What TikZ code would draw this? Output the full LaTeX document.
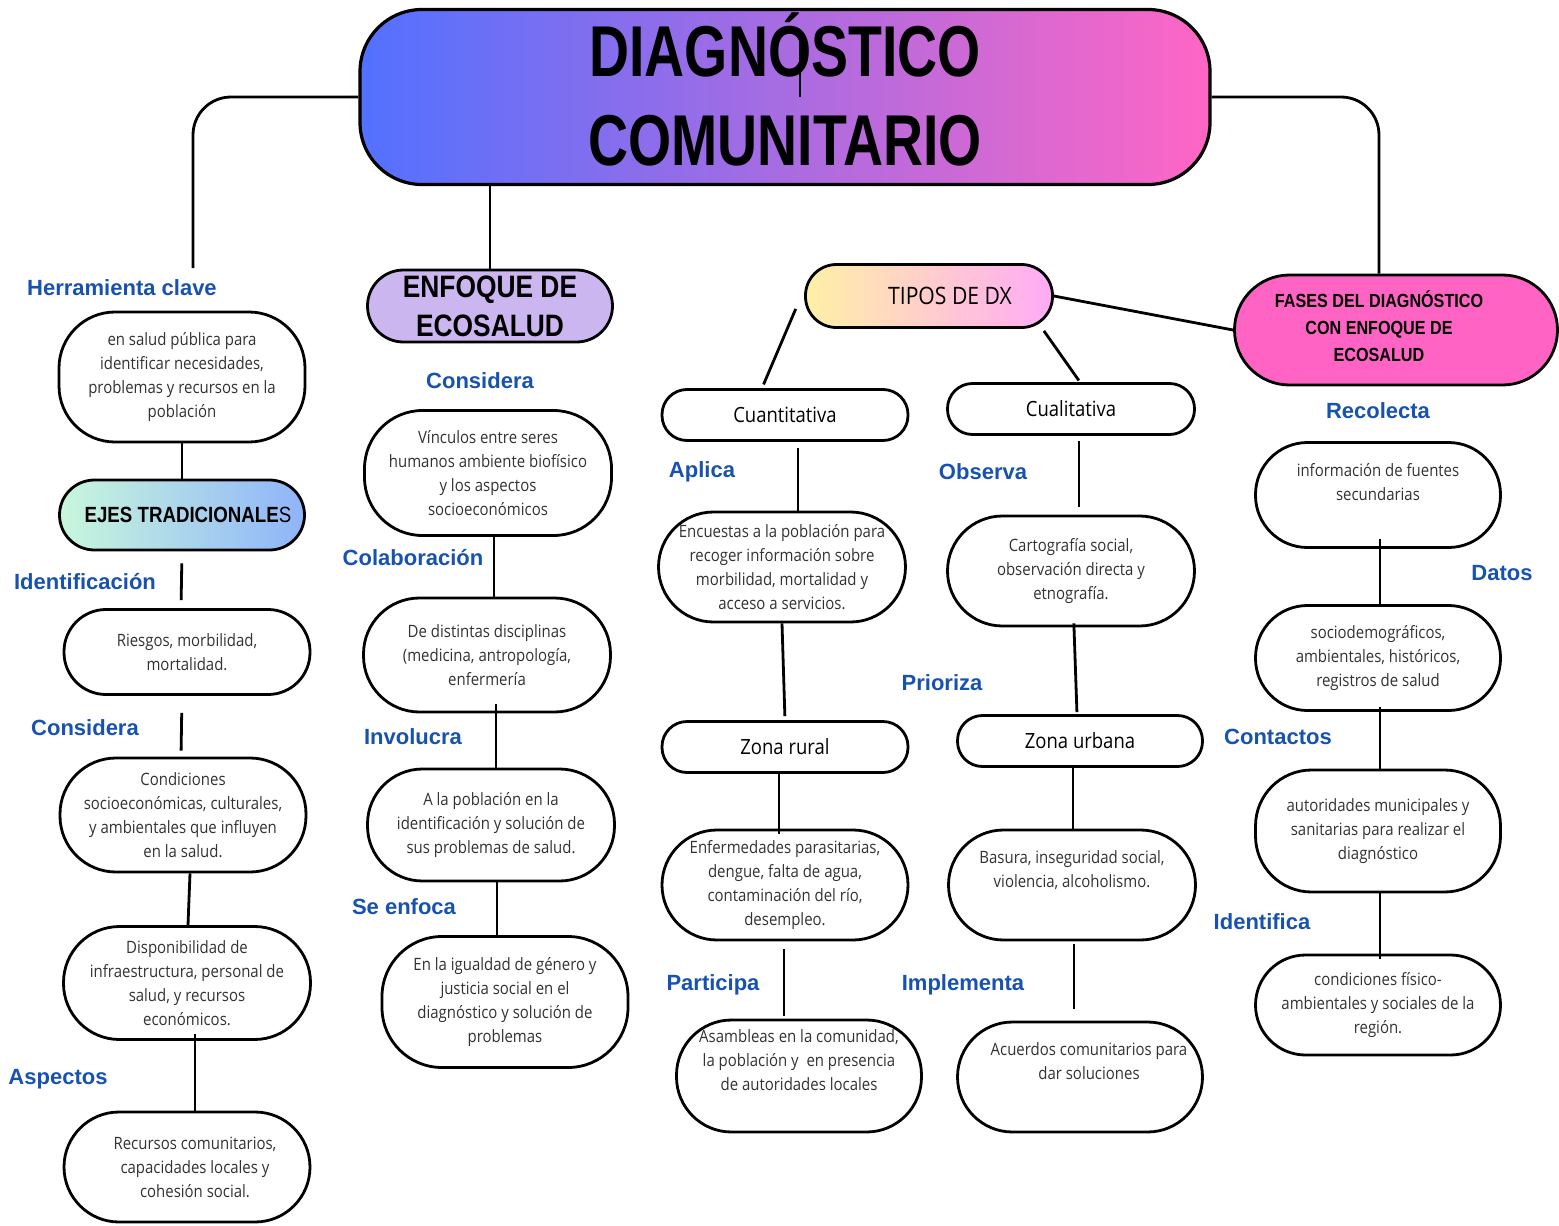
\documentclass[tikz,border=0pt]{standalone}
\usepackage{fontspec}
\setmainfont{Open Sans}
\newfontfamily\bodyfont{Open Sans}[FakeStretch=0.88]
\newfontfamily\labelfont{Liberation Sans}
\newfontfamily\headfont{Liberation Sans}[FakeStretch=0.85]
\newfontfamily\titlefont{Liberation Sans}[FakeStretch=0.77]
\definecolor{labelblue}{RGB}{24,82,176}
\definecolor{textgray}{RGB}{50,50,50}
\definecolor{titleblue}{RGB}{82,113,255}
\definecolor{titlepink}{RGB}{255,102,196}
\definecolor{ejesleft}{RGB}{200,247,220}
\definecolor{ejesright}{RGB}{143,180,250}
\definecolor{tiposleft}{RGB}{255,240,165}
\definecolor{tiposright}{RGB}{255,170,245}
\definecolor{enfoquefill}{RGB}{203,182,240}
\definecolor{fasesfill}{RGB}{255,100,196}

\begin{document}
\begin{tikzpicture}[x=1pt, y=-1pt,
  concept/.style={draw, line width=2.8pt, rounded corners=#1, fill=white, align=center,
    text=textgray, minimum width=246pt, inner sep=3pt, font=\bodyfont\fontsize{17}{24}\selectfont},
  concept/.default=52pt,
  kind/.style={concept=25pt, minimum height=51pt, text=black, font=\bodyfont\fontsize{21}{26}\selectfont},
  heading/.style={draw, line width=2.8pt, align=center, text=black, font=\headfont\bfseries},
  verb/.style={text=labelblue, font=\labelfont\bfseries\fontsize{22}{26}\selectfont},
  link/.style={line width=2.8pt},
]
\useasboundingbox (0,0) rectangle (1559,1226);

% title
\node[heading, line width=3.2pt, rounded corners=62pt, left color=titleblue, right color=titlepink,
  minimum width=850pt, minimum height=175pt] (title) at (785,97) {};
\node[align=center, font=\titlefont\bfseries\fontsize{72}{89}\selectfont] (titletxt) at (785,89)
  {DIAGNÓSTICO\\COMUNITARIO};
\coordinate (tickA) at (800,40);
\coordinate (tickB) at (800,97);

% left column
\node[verb] (herramienta) at (122,288) {Herramienta clave};
\coordinate (herrtop) at (193,268);
\node[concept=56pt, minimum height=130pt] (salud) at (182,377)
  {en salud pública para\\identificar necesidades,\\problemas y recursos en la\\población};
\node[heading, rounded corners=35pt, left color=ejesleft, right color=ejesright, minimum width=245pt,
  minimum height=70pt, font=\headfont\bfseries\fontsize{22}{26}\selectfont]
  (ejes) at (182,515) {\hspace*{12pt}EJES TRADICIONALE{\mdseries S}};
\node[verb] (identificacion) at (85,582) {Identificación};
\node[concept=42pt, minimum height=85pt] (riesgos) at (187,652) {Riesgos, morbilidad,\\mortalidad.};
\node[verb] (considera1) at (85,728) {Considera};
\node[concept=56pt, minimum height=114pt] (condiciones) at (183,815)
  {Condiciones\\socioeconómicas, culturales,\\y ambientales que influyen\\en la salud.};
\node[concept=56pt, minimum height=113pt, minimum width=247pt] (disponibilidad) at (187,983)
  {Disponibilidad de\\infraestructura, personal de\\salud, y recursos\\económicos.};
\node[verb] (aspectos) at (58,1079) {Aspectos};
\node[concept=55pt, minimum height=110pt] (recursos) at (187,1167)
  {\hspace*{16pt}Recursos comunitarios,\\\hspace*{16pt}capacidades locales y\\\hspace*{16pt}cohesión social.};

% second column
\node[heading, rounded corners=36pt, fill=enfoquefill, minimum width=245pt, minimum height=72pt,
  font=\headfont\bfseries\fontsize{31}{39}\selectfont] (enfoque) at (490,306) {ENFOQUE DE\\ECOSALUD};
\node[verb] (considera2) at (480,381) {Considera};
\node[concept=58pt, minimum height=125pt, minimum width=247pt] (vinculos) at (488,473)
  {Vínculos entre seres\\humanos ambiente biofísico\\y los aspectos\\socioeconómicos};
\node[verb] (colaboracion) at (413,558) {Colaboración};
\node[concept=56pt, minimum height=114pt, minimum width=247pt] (disciplinas) at (487,655)
  {De distintas disciplinas\\(medicina, antropología,\\enfermería};
\node[verb] (involucra) at (413,737) {Involucra};
\node[concept=55pt, minimum height=112pt, minimum width=247pt] (poblacion) at (491,825)
  {A la población en la\\identificación y solución de\\sus problemas de salud.};
\node[verb] (seenfoca) at (404,907) {Se enfoca};
\node[concept=60pt, minimum height=131pt] (igualdad) at (505,1002)
  {En la igualdad de género y\\justicia social en el\\diagnóstico y solución de\\problemas};

% types of diagnosis
\node[heading, rounded corners=31pt, left color=tiposleft, right color=tiposright, minimum width=247pt,
  minimum height=63pt, font=\bodyfont\mdseries\fontsize{24}{28}\selectfont]
  (tipos) at (929,296) {\hspace*{42pt}TIPOS DE DX};
\node[kind] (cuanti) at (785,415) {Cuantitativa};
\node[kind, minimum width=247pt] (cuali) at (1071,409) {Cualitativa};
\node[verb] (aplica) at (702,472) {Aplica};
\node[concept=55pt, minimum height=110pt, minimum width=247pt] (encuestas) at (782,567)
  {Encuestas a la población para\\recoger información sobre\\morbilidad, mortalidad y\\acceso a servicios.};
\node[kind] (zonarural) at (785,747) {Zona rural};
\node[concept=55pt, minimum height=110pt] (enfermedades) at (785,885)
  {Enfermedades parasitarias,\\dengue, falta de agua,\\contaminación del río,\\desempleo.};
\node[verb] (participa) at (713,985) {Participa};
\node[concept=55pt, minimum height=112pt, minimum width=245pt] (asambleas) at (799,1076)
  {Asambleas en la comunidad,\\la población y\ \ en presencia\\de autoridades locales\\ \strut};
\node[verb] (observa) at (983,472) {Observa};
\node[concept=55pt, minimum height=110pt, minimum width=247pt] (cartografia) at (1071,571)
  {Cartografía social,\\observación directa y\\etnografía.};
\node[verb] (prioriza) at (942,683) {Prioriza};
\node[kind, minimum width=245pt] (zonaurbana) at (1080,741) {Zona urbana};
\node[concept=55pt, minimum height=110pt, minimum width=247pt] (basura) at (1072,885)
  {Basura, inseguridad social,\\violencia, alcoholismo.\\ \strut};
\node[verb] (implementa) at (963,985) {Implementa};
\node[concept=55pt, minimum height=110pt, minimum width=245pt] (acuerdos) at (1080,1077)
  {\hspace*{18pt}Acuerdos comunitarios para\\\hspace*{18pt}dar soluciones\\ \strut};

% phases
\node[heading, rounded corners=55pt, fill=fasesfill, minimum width=323pt, minimum height=110pt]
  (fases) at (1396,330) {};
\node[font=\headfont\bfseries\fontsize{19}{27}\selectfont, align=center] (fasestxt) at (1379,326)
  {FASES DEL DIAGNÓSTICO\\CON ENFOQUE DE\\ECOSALUD};
\node[verb] (recolecta) at (1378,411) {Recolecta};
\node[concept=52pt, minimum height=105pt, minimum width=245pt] (fuentes) at (1378,495)
  {información de fuentes\\secundarias\\[-6pt] \strut};
\node[verb] (datos) at (1502,573) {Datos};
\node[concept=52pt, minimum height=105pt, minimum width=245pt] (sociodemo) at (1378,658)
  {sociodemográficos,\\ambientales, históricos,\\registros de salud};
\node[verb] (contactos) at (1278,737) {Contactos};
\node[concept=56pt, minimum height=122pt, minimum width=245pt] (autoridades) at (1378,831)
  {autoridades municipales y\\sanitarias para realizar el\\diagnóstico};
\node[verb] (identifica) at (1262,922) {Identifica};
\node[concept=50pt, minimum height=100pt, minimum width=245pt] (condfisico) at (1378,1005)
  {condiciones físico-\\ambientales y sociales de la\\región.};

% connectors
\draw[link] (tickA) -- (tickB);
\draw[link, rounded corners=38pt] (title.west) -| (herrtop);
\draw[link] (enfoque.north |- title.south) -- (enfoque.north);
\draw[link, rounded corners=38pt] (title.east) -| (fasestxt.center |- fases.north);
\draw[link] (tipos.east) -- (fases.west);
\draw[link, shorten <=1pt, shorten >=4pt] ([xshift=-8pt,yshift=-12pt]tipos.west) -- ([xshift=-23pt]cuanti.north);
\draw[link, shorten >=2pt] ([xshift=-10pt,yshift=-2pt]tipos.south east) -- ([xshift=9pt]cuali.north);

\draw[link] (salud.south) -- (ejes.north);
\draw[link, shorten <=12pt, shorten >=8pt] ([xshift=0pt]ejes.south) -- ([xshift=-6pt]riesgos.north);
\draw[link, shorten <=17pt, shorten >=6pt] ([xshift=-5pt]riesgos.south) -- ([xshift=-2pt]condiciones.north);
\draw[link] ([xshift=7pt]condiciones.south) -- ([xshift=1pt]disponibilidad.north);
\draw[link, shorten <=-7pt] ([xshift=8pt]disponibilidad.south) -- ([xshift=8pt]recursos.north);

\draw[link] ([xshift=6pt]vinculos.south) -- ([xshift=7pt]disciplinas.north);
\draw[link, shorten <=-9pt] ([xshift=9pt]disciplinas.south) -- ([xshift=5pt]poblacion.north);
\draw[link] ([xshift=6pt]poblacion.south) -- ([xshift=-8pt]igualdad.north);

\draw[link, shorten <=6pt] ([xshift=13pt]cuanti.south) -- ([xshift=16pt]encuestas.north);
\draw[link, shorten >=4pt] (encuestas.south) -- (zonarural.north);
\draw[link, shorten >=-5pt] ([xshift=-6pt]zonarural.south) -- ([xshift=-6pt]enfermedades.north);
\draw[link, shorten <=8pt, shorten >=3pt] ([xshift=-1pt]enfermedades.south) -- ([xshift=-15pt]asambleas.north);
\draw[link, shorten <=5pt, shorten >=8pt] ([xshift=8pt]cuali.south) -- ([xshift=8pt]cartografia.north);
\draw[link, shorten <=-4pt, shorten >=2pt] ([xshift=3pt]cartografia.south) -- ([xshift=-3pt]zonaurbana.north);
\draw[link, shorten <=-3pt] ([xshift=-7pt]zonaurbana.south) -- ([xshift=1pt]basura.north);
\draw[link, shorten <=3pt, shorten >=12pt] ([xshift=2pt]basura.south) -- ([xshift=-6pt]acuerdos.north);

\draw[link, shorten <=-10pt] ([xshift=2pt]fuentes.south) -- ([xshift=2pt]sociodemo.north);
\draw[link, shorten <=-5pt] ([xshift=2pt]sociodemo.south) -- ([xshift=2pt]autoridades.north);
\draw[link, shorten >=-5pt] ([xshift=2pt]autoridades.south) -- ([xshift=2pt]condfisico.north);
\end{tikzpicture}
\end{document}
